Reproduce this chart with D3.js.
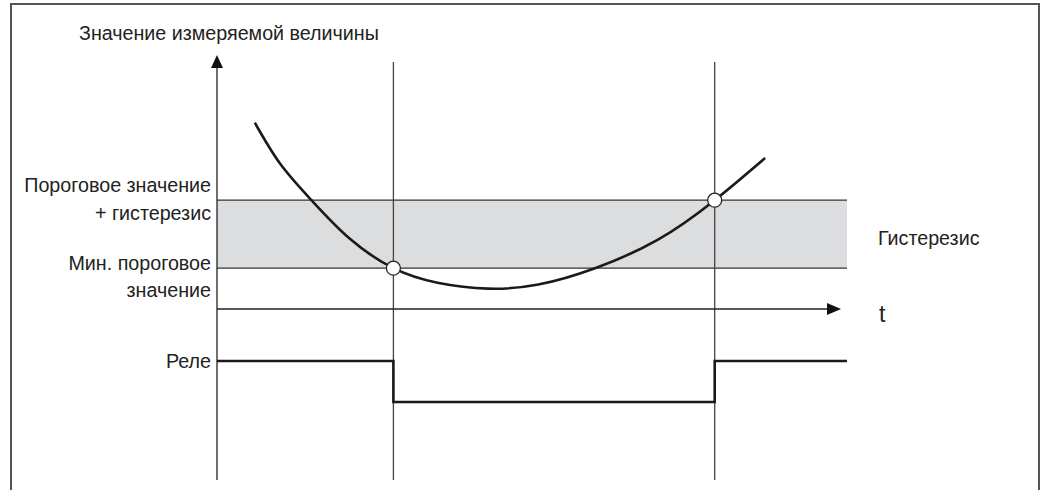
<!DOCTYPE html>
<html>
  <meta charset="utf-8" />
  <head>
    <script src="https://d3js.org/d3.v7.min.js"></script>
    <style>
      body {
        margin: 0;
        background: #fff;
      }
      text {
        font-family: "Liberation Sans", Arial, sans-serif;
        font-size: 19.7px;
        fill: #222;
      }
    </style>
  </head>
  <body>
    <svg id="chart" width="1046" height="490"></svg>

    <script>
      // measured value over time (t in %, value in arbitrary units)
      const curveT = [6, 10, 15, 21, 28, 35, 43, 51, 60, 70, 79, 87];
      const curveV = [13.7, 10.7, 8.0, 5.2, 3.0, 1.93, 1.5, 1.8, 3.0, 5.1, 8.0, 11.1];

      // thresholds
      const minThreshold = 3;
      const upperThreshold = 8;

      // switching moments
      const switchT = [28, 79];
      const switchV = [minThreshold, upperThreshold];

      // relay state
      const relayT = [0, 28, 28, 79, 79, 100];
      const relayS = [1, 1, 0, 0, 1, 1];

      const leftLabels = [
        ["Пороговое значение", "+ гистерезис"],
        ["Мин. пороговое", "значение"],
      ];

      const svg = d3.select("#chart");

      // frame
      svg
        .append("rect")
        .attr("x", 11)
        .attr("y", 4)
        .attr("width", 1028)
        .attr("height", 520)
        .attr("fill", "none")
        .attr("stroke", "#555")
        .attr("stroke-width", 2);

      const x = d3.scaleLinear().domain([0, 100]).range([217, 847]);
      const y = d3.scaleLinear().domain([0, 20]).range([309, 37]);
      const yRelay = d3.scaleLinear().domain([0, 1]).range([402, 361]);

      const axisBottom = 480;

      // hysteresis band
      svg
        .append("rect")
        .attr("x", x(0))
        .attr("y", y(upperThreshold))
        .attr("width", x(100) - x(0))
        .attr("height", y(minThreshold) - y(upperThreshold))
        .attr("fill", "#dcdddf");

      [minThreshold, upperThreshold].forEach((v) => {
        svg
          .append("line")
          .attr("x1", x(0))
          .attr("x2", x(100))
          .attr("y1", y(v))
          .attr("y2", y(v))
          .attr("stroke", "#333")
          .attr("stroke-width", 1.3);
      });

      // switching verticals
      switchT.forEach((t) => {
        svg
          .append("line")
          .attr("x1", x(t))
          .attr("x2", x(t))
          .attr("y1", 62)
          .attr("y2", axisBottom)
          .attr("stroke", "#444")
          .attr("stroke-width", 1.3);
      });

      // y axis with arrow
      svg
        .append("line")
        .attr("x1", x(0))
        .attr("x2", x(0))
        .attr("y1", axisBottom)
        .attr("y2", 66)
        .attr("stroke", "#222")
        .attr("stroke-width", 1.3);
      svg
        .append("path")
        .attr("d", `M${x(0)},55 L${x(0) - 6},68 L${x(0) + 6},68 Z`)
        .attr("fill", "#111");

      // t axis with arrow
      svg
        .append("line")
        .attr("x1", x(0))
        .attr("x2", 830)
        .attr("y1", y(0))
        .attr("y2", y(0))
        .attr("stroke", "#222")
        .attr("stroke-width", 1.3);
      svg
        .append("path")
        .attr("d", `M841,${y(0)} L827,${y(0) - 6} L827,${y(0) + 6} Z`)
        .attr("fill", "#111");

      // measured curve
      const line = d3
        .line()
        .x((d, i) => x(curveT[i]))
        .y((d) => y(d))
        .curve(d3.curveNatural);

      svg
        .append("path")
        .attr("d", line(curveV))
        .attr("fill", "none")
        .attr("stroke", "#1a1a1a")
        .attr("stroke-width", 2.6);

      // relay
      const relayLine = d3
        .line()
        .x((d, i) => x(relayT[i]))
        .y((d) => yRelay(d));

      svg
        .append("path")
        .attr("d", relayLine(relayS))
        .attr("fill", "none")
        .attr("stroke", "#1a1a1a")
        .attr("stroke-width", 2.6);

      // switching points
      svg
        .selectAll(".sw")
        .data(switchT)
        .enter()
        .append("circle")
        .attr("class", "sw")
        .attr("cx", (d) => x(d))
        .attr("cy", (d, i) => y(switchV[i]))
        .attr("r", 7)
        .attr("fill", "#fff")
        .attr("stroke", "#222")
        .attr("stroke-width", 1.3);

      // texts
      svg
        .append("text")
        .attr("x", 79)
        .attr("y", 40)
        .text("Значение измеряемой величины");

      const labelY = [
        [192, 220],
        [270, 297],
      ];
      leftLabels.forEach((lines, j) => {
        lines.forEach((s, k) => {
          svg
            .append("text")
            .attr("x", 211)
            .attr("y", labelY[j][k])
            .attr("text-anchor", "end")
            .text(s);
        });
      });

      svg
        .append("text")
        .attr("x", 211)
        .attr("y", yRelay(1) + 7)
        .attr("text-anchor", "end")
        .text("Реле");

      svg
        .append("text")
        .attr("x", 878)
        .attr("y", 245)
        .text("Гистерезис");

      svg
        .append("text")
        .attr("x", 879)
        .attr("y", 322)
        .style("font-size", "23px")
        .text("t");
    </script>
  </body>
</html>
